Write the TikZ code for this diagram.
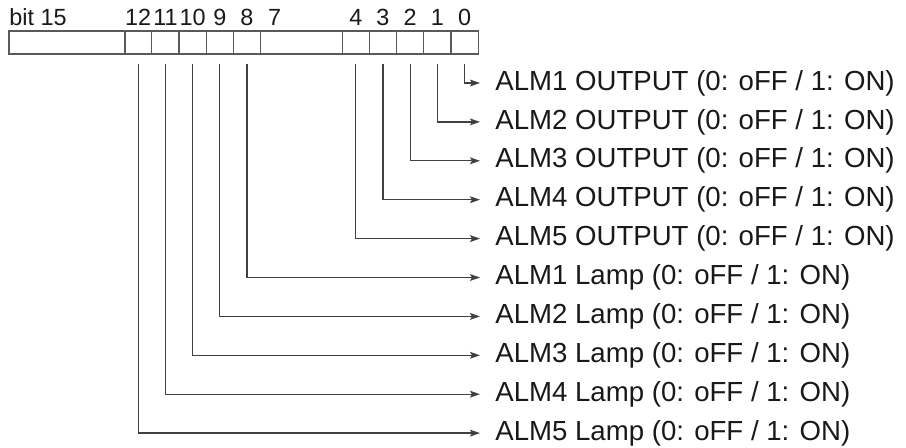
\documentclass[tikz,border=0pt]{standalone}
\usepackage{fontspec}
\setmainfont{Liberation Sans}
\usetikzlibrary{arrows.meta}

\begin{document}
\begin{tikzpicture}[x=0.5pt, y=-0.5pt, >={Stealth[length=5pt, width=3.4pt, inset=1pt]},
    every node/.style={font=\fontsize{13.8}{16}\selectfont, text=black!90}]
  \tikzstyle{cell}=[draw=black!65, line width=0.65pt, minimum height=11.5pt, inner sep=0pt]
  \tikzstyle{bitno}=[font=\fontsize{11.7}{13}\selectfont, anchor=base, inner sep=0pt]
  \tikzstyle{info}=[anchor=west, inner xsep=7.5pt, inner ysep=0pt]
  \tikzstyle{wire}=[->, draw=black!75, line width=0.65pt]
  \useasboundingbox (0,0) rectangle (906,448);
  % register cells
  \node[cell, minimum width=58pt] (c15) at (67,42.5) {};
  \node[cell, minimum width=40.8pt] (c7) at (301.4,42.5) {};
  \foreach \b in {0,1,2,3,4,8,9,10,11,12}{
    \node[cell, minimum width=13.6pt] (c\b) at (464.6-27.2*\b,42.5) {};
    \node[bitno] (n\b) at (464.6-27.2*\b,26) {\b};
  }
  \node[bitno] (n7) at (274.6,26) {7};
  \node[bitno, anchor=base west] (n15) at (9,26) {bit 15};
  % descriptions
  \foreach \b/\k in {0/0,1/1,2/2,3/3,4/4}{
    \pgfmathtruncatemacro{\alm}{\b+1}
    \node[info] (t\b) at (480,83+38.9*\k) {ALM\alm{} OUTPUT (0: oFF / 1: ON)};
  }
  \foreach \b/\k in {8/5,9/6,10/7,11/8,12/9}{
    \pgfmathtruncatemacro{\alm}{\b-7}
    \node[info] (t\b) at (480,83+38.9*\k) {ALM\alm{} Lamp (0: oFF / 1: ON)};
  }
  \foreach \b in {0,1,2,3,4,8,9,10,11,12}{
    \draw[wire] ([yshift=-4.5pt]c\b.south) |- (t\b.west);
  }
\end{tikzpicture}
\end{document}
